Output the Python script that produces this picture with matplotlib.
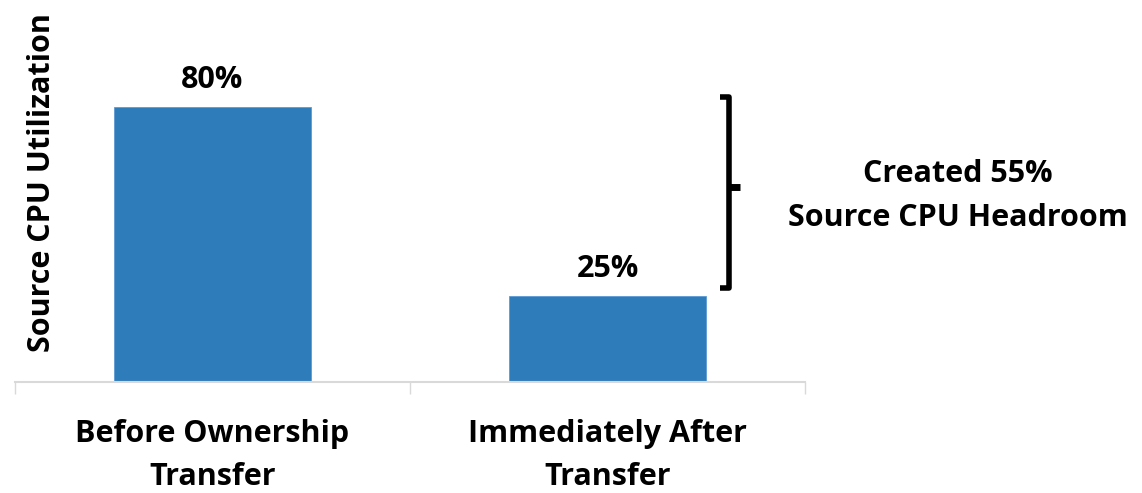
import matplotlib.pyplot as plt

categories = ["Before Ownership\nTransfer", "Immediately After\nTransfer"]
utilization = [80, 25]
bar_labels = ["80%", "25%"]
headroom = utilization[0] - utilization[1]

plt.rcParams['font.family'] = ['Open Sans', 'DejaVu Sans']
plt.rcParams['font.weight'] = 'bold'
FS = 22

fig = plt.figure(figsize=(11.42, 4.93), dpi=100)
ax = fig.add_axes([15 / 1142, 111 / 493, 790 / 1142, 340 / 493])

x = range(len(categories))
bars = ax.bar(x, utilization, width=0.5, color='#2F7CBA', edgecolor='#5B9BD5', linewidth=0.6)
ax.set_xlim(-0.5, 1.5)
ax.set_ylim(0, 99)

for bar, lab in zip(bars, bar_labels):
    ax.text(bar.get_x() + bar.get_width() / 2, bar.get_height() + 3.5, lab,
            ha='center', va='bottom', fontsize=FS, fontweight='bold')

# category labels between the boundary ticks
ax.set_xticks([-0.5, 0.5, 1.5])
ax.set_xticklabels([])
ax.tick_params(axis='x', direction='out', length=8.5, width=1, color='#D9D9D9')
for xi, cat in zip(x, categories):
    ax.text(xi, -0.11, cat, transform=ax.get_xaxis_transform(), ha='center', va='top',
            fontsize=FS, fontweight='bold', linespacing=1.55)
ax.set_yticks([])
for s in ['top', 'right', 'left']:
    ax.spines[s].set_visible(False)
ax.spines['bottom'].set_color('#D9D9D9')
ax.spines['bottom'].set_linewidth(1.5)

# bracket showing the headroom
top = utilization[0] + 3
bot = utilization[1] + 2.5
mid = (top + bot) / 2 + 1.5
xl, xv, xr = 1.285, 1.308, 1.335
ax.plot([xl, xv, xv, xl], [top, top, bot, bot], color='black', lw=4,
        solid_joinstyle='round', solid_capstyle='butt', clip_on=False)
ax.plot([xv, xr], [mid, mid], color='black', lw=5, solid_capstyle='butt', clip_on=False)

fig.text(958 / 1142, 1 - 196 / 493, f"Created {headroom}%\nSource CPU Headroom",
         ha='center', va='center', fontsize=FS, fontweight='bold', linespacing=1.65)

fig.text(42 / 1142, 1 - 183 / 493, "Source CPU Utilization", rotation=90,
         ha='center', va='center', fontsize=FS, fontweight='bold')

fig.savefig("out.png", dpi=100)
